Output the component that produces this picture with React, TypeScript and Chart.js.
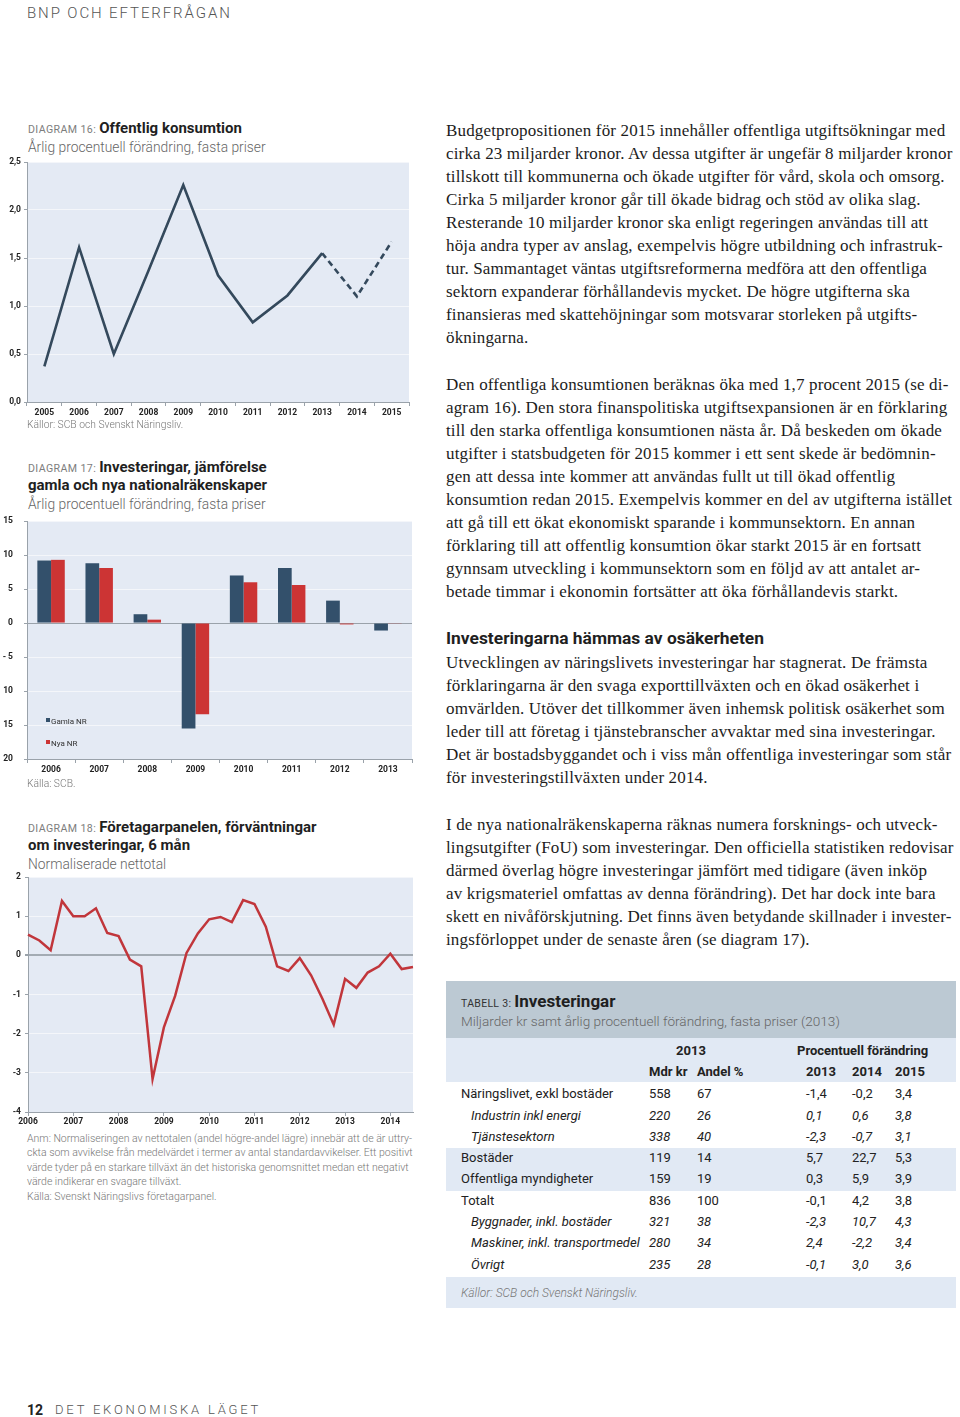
import React, { useEffect, useRef } from 'react';
import { Chart, registerables } from 'chart.js';
Chart.register(...registerables);

const SANS = 'Roboto, "Open Sans", "DejaVu Sans", sans-serif';
const SERIF = '"Liberation Serif", "DejaVu Serif", serif';

const BLUE = '#33506b';
const RED = '#cc3434';
const LINE16 = '#34495c';
const RED18 = '#c1363b';
const PLOT_BG = '#e4eaf4';
const GRID = '#f4f6fa';
const AXIS = '#9aa2aa';
const ZERO18 = '#a3abb3';

// ---------- Diagram 16 data ----------
const years16 = ['2005', '2006', '2007', '2008', '2009', '2010', '2011', '2012', '2013', '2014', '2015'];
const konsumtion16 = [0.37, 1.61, 0.5, 1.37, 2.26, 1.32, 0.83, 1.11, 1.55, 1.1, 1.67];
const prognosFrom16 = 8; // dashed from 2013 onwards

// ---------- Diagram 17 data ----------
const years17 = ['2006', '2007', '2008', '2009', '2010', '2011', '2012', '2013'];
const gamlaNR = [9.2, 8.8, 1.3, -15.5, 7.0, 8.1, 3.3, -1.1];
const nyaNR = [9.3, 8.1, 0.5, -13.4, 6.0, 5.6, -0.2, -0.1];
const yTickValues17 = [-20, -15, -10, -5, 0, 5, 10, 15];
const yTickLabels17 = ['20', '15', '10', '- 5', '0', '5', '10', '15'];

// ---------- Diagram 18 data ----------
const quarters18 = [
  '2006K1', '2006K2', '2006K3', '2006K4',
  '2007K1', '2007K2', '2007K3', '2007K4',
  '2008K1', '2008K2', '2008K3', '2008K4',
  '2009K1', '2009K2', '2009K3', '2009K4',
  '2010K1', '2010K2', '2010K3', '2010K4',
  '2011K1', '2011K2', '2011K3', '2011K4',
  '2012K1', '2012K2', '2012K3', '2012K4',
  '2013K1', '2013K2', '2013K3', '2013K4',
  '2014K1', '2014K2', '2014K3',
];
const forvantningar18 = [
  0.53, 0.38, 0.13, 1.39,
  1.0, 1.0, 1.2, 0.57,
  0.49, -0.11, -0.28, -3.16,
  -1.84, -1.03, 0.06, 0.56,
  0.92, 0.98, 0.85, 1.41,
  1.31, 0.73, -0.28, -0.4,
  -0.07, -0.51, -1.11, -1.77,
  -0.6, -0.83, -0.44, -0.28,
  0.04, -0.35, -0.3,
];

// ---------- Table 3 data ----------
const tableRows = ['Näringslivet, exkl bostäder', 'Industrin inkl energi', 'Tjänstesektorn', 'Bostäder', 'Offentliga myndigheter', 'Totalt', 'Byggnader, inkl. bostäder', 'Maskiner, inkl. transportmedel', 'Övrigt'];
const tableItalic = [false, true, true, false, false, false, true, true, true];
const mdrKr = ['558', '220', '338', '119', '159', '836', '321', '280', '235'];
const andel = ['67', '26', '40', '14', '19', '100', '38', '34', '28'];
const f2013 = ['-1,4', '0,1', '-2,3', '5,7', '0,3', '-0,1', '-2,3', '2,4', '-0,1'];
const f2014 = ['-0,2', '0,6', '-0,7', '22,7', '5,9', '4,2', '10,7', '-2,2', '3,0'];
const f2015 = ['3,4', '3,8', '3,1', '5,3', '3,9', '3,8', '4,3', '3,4', '3,6'];

// ---------- Body text ----------
const para1 = [
  'Budgetpropositionen för 2015 innehåller offentliga utgiftsökningar med',
  'cirka 23 miljarder kronor. Av dessa utgifter är ungefär 8 miljarder kronor',
  'tillskott till kommunerna och ökade utgifter för vård, skola och omsorg.',
  'Cirka 5 miljarder kronor går till ökade bidrag och stöd av olika slag.',
  'Resterande 10 miljarder kronor ska enligt regeringen användas till att',
  'höja andra typer av anslag, exempelvis högre utbildning och infrastruk-',
  'tur. Sammantaget väntas utgiftsreformerna medföra att den offentliga',
  'sektorn expanderar förhållandevis mycket. De högre utgifterna ska',
  'finansieras med skattehöjningar som motsvarar storleken på utgifts-',
  'ökningarna.',
];
const para2 = [
  'Den offentliga konsumtionen beräknas öka med 1,7 procent 2015 (se di-',
  'agram 16). Den stora finanspolitiska utgiftsexpansionen är en förklaring',
  'till den starka offentliga konsumtionen nästa år. Då beskeden om ökade',
  'utgifter i statsbudgeten för 2015 kommer i ett sent skede är bedömnin-',
  'gen att dessa inte kommer att användas fullt ut till ökad offentlig',
  'konsumtion redan 2015. Exempelvis kommer en del av utgifterna istället',
  'att gå till ett ökat ekonomiskt sparande i kommunsektorn. En annan',
  'förklaring till att offentlig konsumtion ökar starkt 2015 är en fortsatt',
  'gynnsam utveckling i kommunsektorn som en följd av att antalet ar-',
  'betade timmar i ekonomin fortsätter att öka förhållandevis starkt.',
];
const para3 = [
  'Utvecklingen av näringslivets investeringar har stagnerat. De främsta',
  'förklaringarna är den svaga exporttillväxten och en ökad osäkerhet i',
  'omvärlden. Utöver det tillkommer även inhemsk politisk osäkerhet som',
  'leder till att företag i tjänstebranscher avvaktar med sina investeringar.',
  'Det är bostadsbyggandet och i viss mån offentliga investeringar som står',
  'för investeringstillväxten under 2014.',
];
const para4 = [
  'I de nya nationalräkenskaperna räknas numera forsknings- och utveck-',
  'lingsutgifter (FoU) som investeringar. Den officiella statistiken redovisar',
  'därmed överlag högre investeringar jämfört med tidigare (även inköp',
  'av krigsmateriel omfattas av denna förändring). Det har dock inte bara',
  'skett en nivåförskjutning. Det finns även betydande skillnader i invester-',
  'ingsförloppet under de senaste åren (se diagram 17).',
];
const note18 = [
  'Anm: Normaliseringen av nettotalen (andel högre-andel lägre) innebär att de är uttry-',
  'ckta som avvikelse från medelvärdet i termer av antal standardavvikelser. Ett positivt',
  'värde tyder på en starkare tillväxt än det historiska genomsnittet medan ett negativt',
  'värde indikerar en svagare tillväxt.',
  'Källa: Svenskt Näringslivs företagarpanel.',
];

// ---------- helpers ----------
const plotBg = {
  id: 'plotBg',
  beforeDraw(chart: any) {
    const { ctx, chartArea: a } = chart;
    ctx.save();
    ctx.fillStyle = PLOT_BG;
    ctx.fillRect(a.left, a.top, a.right - a.left, a.bottom - a.top);
    ctx.restore();
  },
};

const tickFont = { family: SANS, size: 8.5, weight: 'bold' as const };

function ChartBox({ left, top, width, height, make }: any) {
  const ref = useRef<HTMLCanvasElement>(null);
  useEffect(() => {
    const c = new Chart(ref.current as HTMLCanvasElement, make());
    return () => c.destroy();
  }, []);
  return (
    <canvas ref={ref} width={width} height={height}
      style={{ position: 'absolute', left, top, width, height }} />
  );
}

const baseOptions = {
  animation: false,
  responsive: false,
  events: [],
  plugins: { legend: { display: false }, tooltip: { enabled: false } },
};

function make16(): any {
  return {
    type: 'line',
    data: {
      labels: years16,
      datasets: [{
        data: konsumtion16,
        borderColor: LINE16,
        borderWidth: 2.6,
        pointRadius: 0,
        tension: 0,
        fill: false,
        segment: { borderDash: (c: any) => (c.p0DataIndex >= prognosFrom16 ? [6, 4] : undefined) },
      }],
    },
    options: {
      ...baseOptions,
      layout: { padding: { top: 12, right: 5, left: 0, bottom: 0 } },
      scales: {
        x: {
          offset: true,
          grid: { offset: true, drawOnChartArea: false, tickLength: 4, color: AXIS },
          border: { color: AXIS },
          ticks: { font: tickFont, color: '#222', padding: 2, maxRotation: 0, autoSkip: false },
          afterFit: (s: any) => { s.height = 18; },
        },
        y: {
          min: 0, max: 2.5,
          ticks: { stepSize: 0.5, callback: (v: any) => Number(v).toFixed(1).replace('.', ','), font: tickFont, color: '#222', padding: 3 },
          grid: { color: GRID, tickColor: AXIS, tickLength: 3 },
          border: { color: AXIS },
          afterFit: (s: any) => { s.width = 27; },
        },
      },
    },
    plugins: [plotBg],
  };
}

function make17(): any {
  return {
    type: 'bar',
    data: {
      labels: years17,
      datasets: [
        { label: 'Gamla NR', data: gamlaNR, backgroundColor: BLUE, categoryPercentage: 0.57, barPercentage: 1 },
        { label: 'Nya NR', data: nyaNR, backgroundColor: RED, categoryPercentage: 0.57, barPercentage: 1 },
      ],
    },
    options: {
      ...baseOptions,
      layout: { padding: { top: 12, right: 4, left: 0, bottom: 0 } },
      scales: {
        x: {
          grid: { offset: true, drawOnChartArea: false, tickLength: 4, color: AXIS },
          border: { color: AXIS },
          ticks: { font: tickFont, color: '#222', padding: 2, maxRotation: 0, autoSkip: false },
          afterFit: (s: any) => { s.height = 18; },
        },
        y: {
          min: -20, max: 15,
          ticks: {
            stepSize: 5,
            callback: (v: any) => yTickLabels17[yTickValues17.indexOf(Number(v))] ?? '',
            font: tickFont, color: '#222', padding: 11,
          },
          grid: {
            color: (c: any) => (c.tick && c.tick.value === 0 ? AXIS : GRID),
            tickColor: AXIS, tickLength: 3,
          },
          border: { color: AXIS },
          afterFit: (s: any) => { s.width = 27; },
        },
      },
    },
    plugins: [plotBg],
  };
}

function make18(): any {
  return {
    type: 'line',
    data: {
      labels: quarters18,
      datasets: [{
        data: forvantningar18,
        borderColor: RED18,
        borderWidth: 2.5,
        pointRadius: 0,
        tension: 0,
        fill: false,
      }],
    },
    options: {
      ...baseOptions,
      layout: { padding: { top: 12, right: 3, left: 0, bottom: 0 } },
      scales: {
        x: {
          offset: false,
          grid: {
            drawOnChartArea: false, tickLength: 4,
            tickColor: (c: any) => (c.index % 4 === 0 ? AXIS : 'rgba(0,0,0,0)'),
            color: AXIS,
          },
          border: { color: AXIS },
          ticks: {
            font: tickFont, color: '#222', padding: 1, maxRotation: 0, autoSkip: false,
            callback: (_v: any, i: number) => (i % 4 === 0 ? quarters18[i].slice(0, 4) : ''),
          },
          afterFit: (s: any) => { s.height = 18; },
        },
        y: {
          min: -4, max: 2,
          ticks: { stepSize: 1, font: tickFont, color: '#222', padding: 4 },
          grid: {
            color: (c: any) => (c.tick && c.tick.value === 0 ? ZERO18 : GRID),
            lineWidth: (c: any) => (c.tick && c.tick.value === 0 ? 2 : 1),
            tickColor: AXIS, tickLength: 3,
          },
          border: { color: AXIS },
          afterFit: (s: any) => { s.width = 28; },
        },
      },
    },
    plugins: [plotBg],
  };
}

function Txt({ x, y, size, children, style }: any) {
  const lh = Math.round(size * 1.4);
  return (
    <div style={{ position: 'absolute', left: x, top: y - lh / 2, fontSize: size, lineHeight: `${lh}px`, whiteSpace: 'nowrap', ...style }}>
      {children}
    </div>
  );
}

function DiagTitle({ num, lines, sub, y }: any) {
  return (
    <>
      {lines.map((l: string, i: number) => (
        <Txt key={i} x={28} y={y + i * 18} size={15} style={{ fontFamily: SANS, fontWeight: 700, color: '#1f1f1f' }}>
          {i === 0 && (
            <span style={{ fontSize: 10.6, fontWeight: 400, color: '#7d7d7d', letterSpacing: 0.4, marginRight: 3 }}>{`DIAGRAM ${num}:`}</span>
          )}
          {l}
        </Txt>
      ))}
      <Txt x={28} y={y + lines.length * 18 + 1} size={13.8} style={{ fontFamily: SANS, fontWeight: 300, color: '#666' }}>{sub}</Txt>
    </>
  );
}

function Para({ lines, y }: any) {
  return (
    <>
      {lines.map((l: string, i: number) => (
        <div key={i} style={{ position: 'absolute', left: 446, top: y + i * 23 - 11.5, lineHeight: '23px', fontSize: 17, letterSpacing: 0.15, fontFamily: SERIF, color: '#1c1c1c', whiteSpace: 'nowrap' }}>{l}</div>
      ))}
    </>
  );
}

function Table3() {
  const rowY = [1094, 1116, 1137, 1158, 1179, 1201, 1222, 1243, 1265];
  const cell = (x: number, y: number, t: string, italic: boolean, key: string) => (
    <Txt key={key} x={x} y={y} size={13} style={{ fontFamily: SANS, color: '#222', fontStyle: italic ? 'italic' : 'normal' }}>{t}</Txt>
  );
  const head = (x: number, y: number, t: string) => (
    <Txt x={x} y={y} size={13} style={{ fontFamily: SANS, fontWeight: 700, color: '#222' }}>{t}</Txt>
  );
  return (
    <>
      <div style={{ position: 'absolute', left: 446, top: 981, width: 510, height: 57, background: '#bcc9d3' }} />
      <div style={{ position: 'absolute', left: 446, top: 1038, width: 510, height: 44, background: '#e1e9f4' }} />
      <div style={{ position: 'absolute', left: 446, top: 1148, width: 510, height: 43, background: '#e1e9f4' }} />
      <div style={{ position: 'absolute', left: 446, top: 1277, width: 510, height: 31, background: '#e1e9f4' }} />
      <Txt x={461} y={1001} size={17} style={{ fontFamily: SANS, fontWeight: 700, color: '#1f1f1f' }}>
        <span style={{ fontSize: 10.5, fontWeight: 400, color: '#333', letterSpacing: 0.3, marginRight: 3 }}>TABELL 3:</span>Investeringar
      </Txt>
      <Txt x={461} y={1021} size={13.6} style={{ fontFamily: SANS, fontWeight: 300, color: '#666' }}>Miljarder kr samt årlig procentuell förändring, fasta priser (2013)</Txt>
      {head(676, 1051, '2013')}
      {head(797, 1051, 'Procentuell förändring')}
      {head(649, 1072, 'Mdr kr')}
      {head(697, 1072, 'Andel %')}
      {head(806, 1072, '2013')}
      {head(852, 1072, '2014')}
      {head(895, 1072, '2015')}
      {tableRows.map((r, i) => (
        <React.Fragment key={i}>
          {cell(tableItalic[i] ? 471 : 461, rowY[i], r, tableItalic[i], 'l' + i)}
          {cell(649, rowY[i], mdrKr[i], tableItalic[i], 'm' + i)}
          {cell(697, rowY[i], andel[i], tableItalic[i], 'a' + i)}
          {cell(806, rowY[i], f2013[i], tableItalic[i], 'p' + i)}
          {cell(852, rowY[i], f2014[i], tableItalic[i], 'q' + i)}
          {cell(895, rowY[i], f2015[i], tableItalic[i], 'r' + i)}
        </React.Fragment>
      ))}
      <Txt x={461} y={1293} size={12} style={{ fontFamily: SANS, fontStyle: 'italic', fontWeight: 300, color: '#777' }}>Källor: SCB och Svenskt Näringsliv.</Txt>
    </>
  );
}

export default function App() {
  return (
    <div style={{ position: 'absolute', left: 0, top: 0, width: 960, height: 1417, background: '#fff', overflow: 'hidden', fontFamily: SANS }}>
      <Txt x={27} y={13} size={15} style={{ fontWeight: 300, color: '#555', letterSpacing: 1.9 }}>BNP OCH EFTERFRÅGAN</Txt>

      {/* Diagram 16 */}
      <DiagTitle num={16} lines={['Offentlig konsumtion']} sub="Årlig procentuell förändring, fasta priser" y={128} />
      <ChartBox left={0} top={150} width={414} height={270} make={make16} />
      <Txt x={27} y={425} size={10.3} style={{ fontWeight: 300, color: '#777' }}>Källor: SCB och Svenskt Näringsliv.</Txt>

      {/* Diagram 17 */}
      <DiagTitle num={17} lines={['Investeringar, jämförelse', 'gamla och nya nationalräkenskaper']} sub="Årlig procentuell förändring, fasta priser" y={467} />
      <ChartBox left={0} top={505} width={416} height={272} make={make17} />
      <div style={{ position: 'absolute', left: 46, top: 718, width: 4, height: 4, background: BLUE }} />
      <Txt x={51} y={721} size={8} style={{ color: '#333' }}>Gamla NR</Txt>
      <div style={{ position: 'absolute', left: 46, top: 740, width: 4, height: 4, background: RED }} />
      <Txt x={51} y={743} size={8} style={{ color: '#333' }}>Nya NR</Txt>
      <Txt x={27} y={784} size={10.3} style={{ fontWeight: 300, color: '#777' }}>Källa: SCB.</Txt>

      {/* Diagram 18 */}
      <DiagTitle num={18} lines={['Företagarpanelen, förväntningar', 'om investeringar, 6 mån']} sub="Normaliserade nettotal" y={827} />
      <ChartBox left={0} top={865} width={416} height={265} make={make18} />
      {note18.map((l, i) => (
        <Txt key={i} x={27} y={1138 + i * 14.5} size={10.5} style={{ fontWeight: 300, color: '#777' }}>{l}</Txt>
      ))}

      {/* Right column */}
      <Para lines={para1} y={130} />
      <Para lines={para2} y={384} />
      <Txt x={446} y={638} size={17.4} style={{ fontWeight: 700, color: '#1f1f1f' }}>Investeringarna hämmas av osäkerheten</Txt>
      <Para lines={para3} y={662} />
      <Para lines={para4} y={824} />
      <Table3 />

      <Txt x={27} y={1410} size={14} style={{ fontWeight: 700, color: '#222' }}>12</Txt>
      <Txt x={55} y={1410} size={13} style={{ fontWeight: 300, color: '#555', letterSpacing: 2.8 }}>DET EKONOMISKA LÄGET</Txt>
    </div>
  );
}
